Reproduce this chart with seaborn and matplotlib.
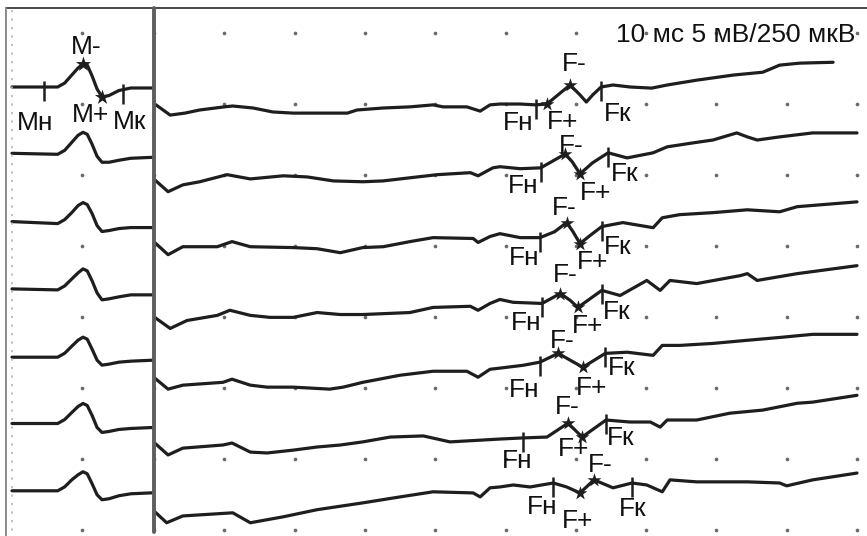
import numpy as np
import pandas as pd
import matplotlib
matplotlib.use("Agg")
import matplotlib.pyplot as plt
from matplotlib.lines import Line2D
import seaborn as sns

# ---------------- data ----------------
# M-responses (left panel): time in ms, amplitude in mV (5 mV per division)
m_time = [0, 6.5, 7.5, 8.5, 9.4, 10.1, 10.7, 11.4, 12.1, 12.8, 13.8, 15.2, 16.9, 20.1]
m_resp_1 = [0.00, 0.00, 0.28, 0.84, 1.34, 1.62, 1.55, 0.77, -0.14, -0.70, -0.60, -0.25, -0.07, -0.07]
m_resp_2 = [0.07, 0.00, 0.28, 0.84, 1.34, 1.55, 1.41, 0.70, -0.14, -0.56, -0.56, -0.42, -0.28, -0.21]
m_resp_3 = [0.00, -0.14, 0.14, 0.63, 1.13, 1.34, 1.20, 0.56, -0.28, -0.70, -0.63, -0.49, -0.42, -0.42]
m_resp_4 = [0.00, -0.07, 0.21, 0.70, 1.13, 1.41, 1.27, 0.56, -0.28, -0.77, -0.70, -0.56, -0.42, -0.42]
m_resp_5 = [-0.07, -0.07, 0.21, 0.70, 1.13, 1.34, 1.20, 0.49, -0.28, -0.63, -0.56, -0.42, -0.35, -0.28]
m_resp_6 = [0.00, 0.00, 0.28, 0.77, 1.20, 1.41, 1.27, 0.56, -0.28, -0.63, -0.56, -0.42, -0.35, -0.28]
m_resp_7 = [0.00, 0.00, 0.28, 0.77, 1.13, 1.34, 1.20, 0.49, -0.28, -0.63, -0.56, -0.35, -0.21, -0.14]
m_responses = [m_resp_1, m_resp_2, m_resp_3, m_resp_4, m_resp_5, m_resp_6, m_resp_7]
m_mark_names = ["Мн", "М-", "М+", "Мк"]
m_mark_times = [4.6, 10.1, 12.8, 15.8]

# F-waves (right panel): time in ms, amplitude in uV (250 uV per division)
f1_t = [0.1, 0.9, 2.3, 4.4, 6.5, 10.0, 11.2, 14.1, 16.9, 19.8, 23.2, 27.5, 28.9, 32.6, 36.4, 39.7, 41.1, 44.5, 46.4, 47.8,
        49.2, 52.1, 54.3, 55.9, 57.8, 59.2, 60.6, 61.5, 62.4, 63.6, 65.3, 67.7, 70.8, 73.0, 77.2, 82.4, 86.6, 89.0, 91.9, 96.6]
f1_v = [14, 0, -25, -18, -7, 4, 7, 0, -14, -18, -18, -18, -7, 0, 4, 11, 4, 4, -11, 11,
        14, 14, 11, 14, 53, 81, 46, 21, 46, 74, 81, 74, 70, 81, 98, 116, 126, 151, 158, 161]
f2_t = [0.1, 2.0, 4.1, 6.5, 10.4, 13.7, 18.4, 21.8, 25.5, 29.7, 32.6, 36.4, 40.3, 45.0, 46.1, 48.2, 49.2, 52.1,
        55.0, 56.3, 58.5, 59.5, 60.6, 62.4, 64.6, 67.3, 71.0, 73.0, 76.7, 79.5, 82.9, 84.4, 85.8, 89.0, 93.7, 100.0]
f2_v = [-14, -56, -32, -21, 4, -11, 0, -4, -18, -21, -18, -7, 4, 11, 0, 28, 32, 25,
        28, 46, 77, 49, 7, 46, 81, 63, 81, 102, 116, 126, 151, 137, 126, 137, 151, 151]
f3_t = [0.1, 2.0, 4.1, 9.0, 11.1, 13.7, 19.8, 23.2, 26.5, 29.7, 32.6, 36.4, 39.7, 45.4, 46.1, 47.8, 49.2,
        52.1, 54.9, 57.0, 58.7, 59.6, 60.6, 62.0, 63.7, 66.7, 71.0, 72.3, 74.8, 79.5, 84.4, 89.0, 91.5, 100.0]
f3_v = [4, -39, -11, -11, 7, -11, -14, -18, -32, -14, -11, 7, 21, 18, 4, 25, 35,
        21, 21, 42, 74, 42, 0, 28, 60, 74, 56, 91, 102, 109, 119, 112, 130, 147]
f4_t = [0.1, 2.3, 4.7, 9.0, 10.8, 13.7, 16.5, 19.8, 23.2, 26.5, 29.7, 36.4, 39.7, 45.0, 46.1, 47.8, 49.2,
        51.1, 55.2, 57.8, 59.2, 60.3, 63.7, 66.3, 70.1, 72.0, 73.4, 77.2, 83.4, 84.4, 85.8, 91.5, 100.0]
f4_v = [-21, -60, -32, -14, 4, -14, -21, -21, -4, -11, -11, -4, 14, 18, 4, 28, 42,
        32, 28, 63, 39, 14, 74, 56, 109, 74, 109, 98, 126, 133, 109, 133, 161]
f5_t = [0.1, 2.0, 4.1, 9.8, 11.1, 13.7, 16.1, 19.8, 25.0, 26.9, 29.7, 35.0, 39.7, 44.5, 46.1, 47.8,
        49.2, 52.5, 54.9, 57.5, 59.2, 61.0, 64.2, 67.3, 71.0, 72.3, 74.8, 79.5, 84.4, 89.0, 93.7, 100.0]
f5_v = [4, -35, -21, -11, 0, -21, -28, -28, -35, -28, -11, 14, 28, 28, 7, 35,
        39, 49, 60, 91, 67, 42, 91, 95, 84, 119, 119, 126, 137, 147, 158, 158]
f6_t = [0.1, 2.0, 4.1, 9.8, 11.1, 13.7, 16.1, 19.8, 23.2, 26.5, 29.7, 33.6, 38.3, 40.3, 42.1, 49.2,
        52.5, 55.9, 58.9, 60.9, 64.3, 67.7, 70.6, 72.0, 73.0, 77.2, 81.9, 86.6, 91.5, 93.7, 100.0]
f6_v = [14, -28, -4, 7, 14, -18, -21, -11, 0, 7, 18, 35, 39, 28, 18, 28,
        32, 35, 84, 35, 95, 88, 88, 70, 95, 95, 119, 130, 154, 158, 182]
f7_t = [0.1, 1.8, 4.1, 11.2, 13.7, 18.4, 23.2, 29.7, 35.0, 39.7, 45.4, 46.4, 47.8, 49.2, 51.1, 53.5,
        56.8, 58.7, 60.6, 62.6, 65.3, 68.0, 70.1, 72.3, 73.4, 77.2, 84.4, 89.0, 90.0, 93.7, 100.0]
f7_v = [11, -28, -4, 7, -28, -7, 18, 42, 63, 81, 77, 63, 95, 98, 105, 98,
        112, 98, 77, 123, 95, 112, 105, 81, 123, 116, 116, 112, 102, 123, 147]
f_times = [f1_t, f2_t, f3_t, f4_t, f5_t, f6_t, f7_t]
f_values = [f1_v, f2_v, f3_v, f4_v, f5_v, f6_v, f7_v]

f_onset = [54.3, 55.0, 54.9, 55.2, 54.9, 52.5, 56.8]   # Fн
f_neg = [59.2, 58.5, 58.7, 57.8, 57.5, 58.9, 62.6]     # F-
f_pos = [55.9, 60.6, 60.6, 60.3, 61.0, 60.9, 60.6]     # F+
f_end = [63.6, 64.6, 63.7, 63.7, 64.2, 64.3, 68.0]     # Fк

header = "10 мс 5 мВ/250 мкВ"

# ---------------- layout ----------------
W, H = 867, 536
PX_PER_MS = 7.03
PX_PER_DIV = 71.0
ROW0_PX = 33.0
DIV_PX = 154.0
M_START_PX = 12.0
M_MV_PER_DIV = 5.0
F_UV_PER_DIV = 250.0
M_ROW0, M_STEP = (87 - ROW0_PX) / PX_PER_DIV, 67.3 / PX_PER_DIV
F_ROW0, F_STEP = (108 - ROW0_PX) / PX_PER_DIV, 67.8 / PX_PER_DIV
CAP_HALF = 9.0

# label offsets (px, right / down) of the label centre from the marked point
m_label_off = {"Мн": (-9, 34), "М-": (3, -19), "М+": (-11, 16), "Мк": (7, 30)}
f_label_off = [
    {"Fн": (-18, 16), "F-": (4, -23), "F+": (16, 16), "Fк": (17, 25)},
    {"Fн": (-17, 16), "F-": (6, -10), "F+": (16, 17), "Fк": (17, 19)},
    {"Fн": (-16, 18), "F-": (-2, -17), "F+": (13, 16), "Fк": (16, 18)},
    {"Fн": (-16, 18), "F-": (5, -21), "F+": (10, 17), "Fк": (15, 20)},
    {"Fн": (-16, 26), "F-": (4, -14), "F+": (9, 19), "Fк": (16, 13)},
    {"Fн": (-6, 21), "F-": (-1, -18), "F+": (-9, 10), "Fк": (15, 16)},
    {"Fн": (-11, 22), "F-": (6, -17), "F+": (-2, 26), "Fк": (1, 24)},
]

sns.set_theme(style="white")
plt.rcParams["font.family"] = ["Liberation Sans", "DejaVu Sans"]

ink = "#1e1e1e"
FS = 19
LW = 2.3

fig = plt.figure(figsize=(W / 100, H / 100), dpi=100)
fig.patch.set_facecolor("white")
ax_m = fig.add_axes([0, 0, DIV_PX / W, 1])
ax_f = fig.add_axes([DIV_PX / W, 0, (W - DIV_PX) / W, 1])

ylim = ((H - ROW0_PX) / PX_PER_DIV, -ROW0_PX / PX_PER_DIV)

# ---- grid dots ----
gx, gy = np.meshgrid(np.arange(0, 101, 10), np.arange(0, 8))
sns.scatterplot(x=gx.ravel(), y=gy.ravel(), ax=ax_f, s=7, color="#6a6a6a",
                linewidth=0, zorder=1, legend=False)
sns.scatterplot(x=np.full(8, 10.0), y=np.arange(0, 8), ax=ax_m, s=7, color="#6a6a6a",
                linewidth=0, zorder=1, legend=False)

# ---- M responses ----
rows = []
for j, resp in enumerate(m_responses):
    off = M_ROW0 + j * M_STEP
    for t, v in zip(m_time, resp):
        rows.append((j, t, off - v / M_MV_PER_DIV))
df_m = pd.DataFrame(rows, columns=["trace", "t", "y"])
sns.lineplot(data=df_m, x="t", y="y", units="trace", estimator=None, sort=False,
             color=ink, lw=LW, ax=ax_m, legend=False, zorder=3,
             solid_joinstyle="round", solid_capstyle="round")

m1_y = M_ROW0 - np.array(m_resp_1) / M_MV_PER_DIV
for name, t in zip(m_mark_names, m_mark_times):
    y = np.interp(t, m_time, m1_y)
    if name in ("Мн", "Мк"):
        ax_m.vlines(t, y - 6 / PX_PER_DIV, y + 14 / PX_PER_DIV, color=ink, lw=1.8, zorder=4)
    else:
        sns.scatterplot(x=[t], y=[y], ax=ax_m, marker="*", s=130, color=ink,
                        linewidth=0, zorder=5, legend=False)
    dx, dy = m_label_off[name]
    ax_m.annotate(name, (t, y), xytext=(dx, -(dy + CAP_HALF)), textcoords="offset pixels",
                  ha="center", va="baseline", fontsize=FS, color="#111111", zorder=6)

# ---- F waves ----
rows = []
for i, (tt, vv) in enumerate(zip(f_times, f_values)):
    off = F_ROW0 + i * F_STEP
    for t, v in zip(tt, vv):
        rows.append((i, t, off - v / F_UV_PER_DIV))
df_f = pd.DataFrame(rows, columns=["trace", "t", "y"])
sns.lineplot(data=df_f, x="t", y="y", units="trace", estimator=None, sort=False,
             color=ink, lw=LW, ax=ax_f, legend=False, zorder=3,
             solid_joinstyle="round", solid_capstyle="round")

for i, (tt, vv) in enumerate(zip(f_times, f_values)):
    off = F_ROW0 + i * F_STEP
    yy = off - np.array(vv) / F_UV_PER_DIV
    marks = {"Fн": f_onset[i], "F-": f_neg[i], "F+": f_pos[i], "Fк": f_end[i]}
    star_x, star_y = [], []
    for name, t in marks.items():
        y = np.interp(t, tt, yy)
        if name in ("Fн", "Fк"):
            ax_f.vlines(t, y - 6 / PX_PER_DIV, y + 14 / PX_PER_DIV, color=ink, lw=1.8, zorder=4)
        else:
            star_x.append(t)
            star_y.append(y)
        dx, dy = f_label_off[i][name]
        ax_f.annotate(name, (t, y), xytext=(dx, -(dy + CAP_HALF)), textcoords="offset pixels",
                      ha="center", va="baseline", fontsize=FS, color="#111111", zorder=6)
    sns.scatterplot(x=star_x, y=star_y, ax=ax_f, marker="*", s=110, color=ink,
                    linewidth=0, zorder=5, legend=False)

ax_m.set_xlim(-M_START_PX / PX_PER_MS, (DIV_PX - M_START_PX) / PX_PER_MS)
ax_f.set_xlim(0, (W - DIV_PX) / PX_PER_MS)
for ax in (ax_m, ax_f):
    ax.set_ylim(*ylim)
    ax.axis("off")

# ---- frame ----
def fx(px):
    return px / W

def fy(py):
    return 1 - py / H

fig.add_artist(Line2D([fx(6), fx(W)], [fy(7.5), fy(7.5)], color="#3a3a3a", lw=1.3))
fig.add_artist(Line2D([fx(6), fx(6)], [fy(7.5), fy(H)], color="#8a8a8a", lw=1.4))
fig.add_artist(Line2D([fx(11.5), fx(11.5)], [fy(10), fy(532)], color="#b5b5b5", lw=1.2,
                      linestyle=(0, (1.3, 3.8))))
fig.add_artist(Line2D([fx(DIV_PX), fx(DIV_PX)], [fy(8), fy(532)], color="#5e5e5e", lw=2.8))

fig.text(fx(855), fy(35), header, ha="right", va="center", fontsize=FS, color="#111111")

fig.savefig("out.png", dpi=100)
